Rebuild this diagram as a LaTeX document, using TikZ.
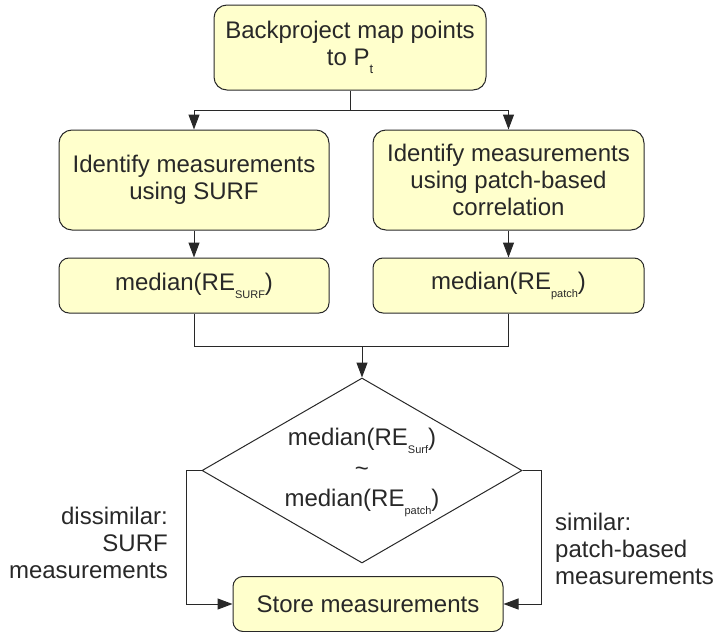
\documentclass[tikz,border=0pt]{standalone}
\usepackage{fontspec}
\setmainfont{Liberation Sans}
\usetikzlibrary{arrows.meta,shapes.geometric}
\definecolor{boxfill}{RGB}{255,255,204}
\definecolor{ink}{RGB}{40,40,40}
\newcommand{\subtxt}[1]{\raisebox{-8pt}{\fontsize{11}{11}\selectfont #1}}
\tikzset{
  procbox/.style={draw=ink, fill=boxfill, line width=1pt, rounded corners=13pt,
    align=center, font=\fontsize{24}{27}\selectfont, text=ink, inner sep=0pt},
  conn/.style={draw=ink, line width=1pt},
  arr/.style={conn, -{Triangle[length=15pt,width=11pt]}},
  lbl/.style={font=\fontsize{24}{27}\selectfont, text=ink, inner sep=0pt}
}
\begin{document}
\begin{tikzpicture}[x=1pt,y=-1pt]
\useasboundingbox (0,0) rectangle (716,632);
% boxes
\node[procbox, minimum width=272pt, minimum height=85pt] (top) at (350,47.5)
  {Backproject map points\\to P\subtxt{\fontsize{13}{13}\selectfont t}};
\node[procbox, minimum width=270pt, minimum height=100pt] (surf) at (194,180)
  {Identify measurements\\using SURF};
\node[procbox, minimum width=271pt, minimum height=100pt] (patch) at (508.5,180)
  {Identify measurements\\using patch-based\\correlation};
\node[procbox, rounded corners=10pt, minimum width=270pt, minimum height=55pt] (msurf) at (194,285.5)
  {median(RE\subtxt{SURF})};
\node[procbox, rounded corners=10pt, minimum width=271pt, minimum height=55pt] (mpatch) at (508.5,285.5)
  {median(RE\subtxt{patch})};
\node[diamond, draw=ink, line width=1pt, minimum width=320pt, minimum height=185pt,
  inner sep=0pt] (dec) at (362,470.5) {};
\node[lbl, align=center] (dectext) at (362,472)
  {median(RE\subtxt{Surf})\\[4pt]\char`\~\\[3pt]median(RE\subtxt{patch})};
\node[procbox, rounded corners=10pt, minimum width=270pt, minimum height=55pt] (store) at (368,604)
  {Store measurements};
% labels
\node[lbl, align=right, anchor=east] (ldis) at (168,543)
  {dissimilar:\\SURF\\measurements};
\node[lbl, align=left, anchor=west] (lsim) at (555,549)
  {similar:\\patch-based\\measurements};
% connectors
\coordinate (split) at (350,110);
\coordinate (join) at (362,346);
\draw[conn] (top.south) -- (split);
\draw[arr] (split) -| (surf.north);
\draw[arr] (split) -| (patch.north);
\draw[arr] (surf.south) -- (msurf.north);
\draw[arr] (patch.south) -- (mpatch.north);
\draw[conn] (msurf.south) |- (join);
\draw[conn] (mpatch.south) |- (join);
\draw[arr] (join) -- (dec.north);
\draw[arr] (dec.west) -- (186,470.5) |- (store.west);
\draw[arr] (dec.east) -- (541,470.5) |- (store.east);
\end{tikzpicture}
\end{document}
